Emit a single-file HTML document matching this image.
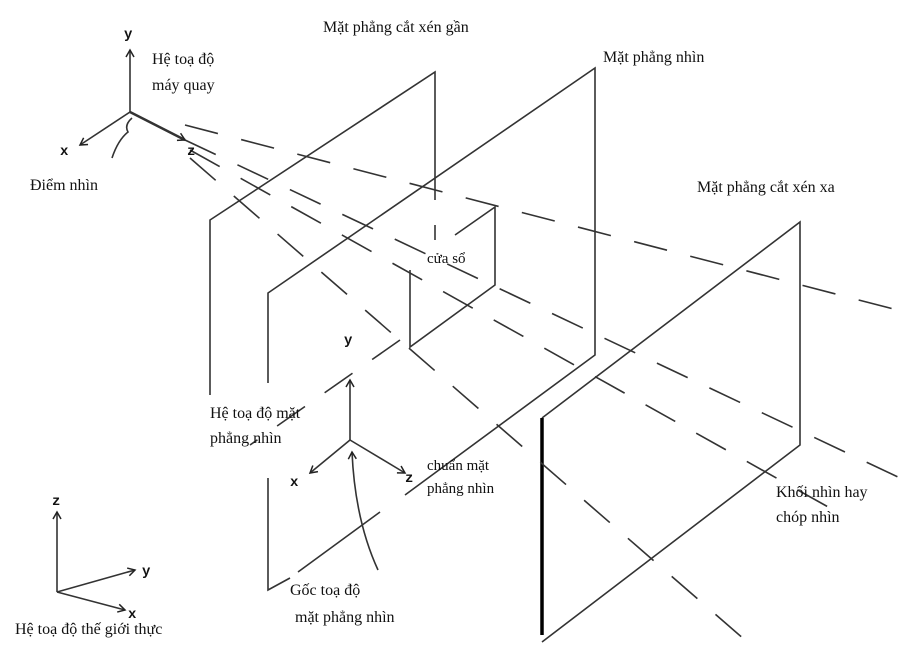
<!DOCTYPE html>
<html><head><meta charset="utf-8"><style>
html,body{margin:0;padding:0;background:#fff;}
svg{display:block;}
text{font-family:"Liberation Serif",serif;fill:#111;font-size:16px;}
.b{font-family:"Liberation Mono",monospace;font-weight:bold;font-size:14px;}
</style></head><body>
<svg width="920" height="662" viewBox="0 0 920 662">
<defs><marker id="ar" markerWidth="10" markerHeight="10" refX="8" refY="5" orient="auto" markerUnits="userSpaceOnUse"><path d="M1,1 L8,5 L1,9" fill="none" stroke="#222" stroke-width="1.5"/></marker></defs>
<g stroke="#333" stroke-width="1.6" fill="none">
<g>
<polyline points="210,395 210,220 435,72 435,200"/>
<line x1="435" y1="225" x2="435" y2="240" />
</g>
<g>
<polyline points="268,383 268,293 595,68 595,355 405,495"/>
<line x1="298" y1="572" x2="380" y2="512"/>
<polyline points="268,478 268,590 290,578"/>
</g>
<g>
<polyline points="410,270 410,347 495,285 495,207 455,235"/>
</g>
<g>
<polyline points="542,418 800,222 800,445 542,642"/>
<line x1="542" y1="418" x2="542" y2="635" stroke="#000" stroke-width="3.5"/>
</g>
<g stroke-dasharray="34,24">
<line x1="185" y1="125" x2="905" y2="312"/>
<line x1="185" y1="140" x2="900" y2="478"/>
<line x1="190" y1="150" x2="830" y2="508"/>
<line x1="190" y1="158" x2="745" y2="640"/>
<line x1="400" y1="340" x2="250" y2="445"/>
</g>
<g>
<line x1="130" y1="112" x2="130" y2="50" marker-end="url(#ar)"/>
<line x1="130" y1="112" x2="80" y2="145" marker-end="url(#ar)"/>
<line x1="130" y1="112" x2="185" y2="140" marker-end="url(#ar)" stroke-width="2.5"/>
<path d="M112,158 Q118,140 128,132 Q124,125 132,118"/>
</g>
<g>
<line x1="350" y1="440" x2="350" y2="380" marker-end="url(#ar)"/>
<line x1="350" y1="440" x2="310" y2="473" marker-end="url(#ar)"/>
<line x1="350" y1="440" x2="405" y2="473" marker-end="url(#ar)"/>
<path d="M378,570 Q355,520 352,452" marker-end="url(#ar)"/>
</g>
<g>
<line x1="57" y1="592" x2="57" y2="512" marker-end="url(#ar)"/>
<line x1="57" y1="592" x2="135" y2="570" marker-end="url(#ar)"/>
<line x1="57" y1="592" x2="125" y2="610" marker-end="url(#ar)"/>
</g>
</g>
<text class="b" x="124" y="38">y</text>
<text class="b" x="60" y="155">x</text>
<text class="b" x="187" y="155">z</text>
<text class="b" x="344" y="344">y</text>
<text class="b" x="290" y="486">x</text>
<text class="b" x="405" y="482">z</text>
<text class="b" x="52" y="505">z</text>
<text class="b" x="142" y="575">y</text>
<text class="b" x="128" y="618">x</text>
<text x="323" y="32">Mặt phẳng cắt xén gần</text>
<text x="603" y="62">Mặt phẳng nhìn</text>
<text x="697" y="192">Mặt phẳng cắt xén xa</text>
<text x="152" y="64">Hệ toạ độ</text>
<text x="152" y="90">máy quay</text>
<text x="30" y="190">Điểm nhìn</text>
<text x="427" y="263" style="font-size:15px">cửa sổ</text>
<text x="210" y="418">Hệ toạ độ mặt</text>
<text x="210" y="443">phẳng nhìn</text>
<text x="427" y="470" style="font-size:15px">chuẩn mặt</text>
<text x="427" y="493" style="font-size:15px">phẳng nhìn</text>
<text x="776" y="497">Khối nhìn hay</text>
<text x="776" y="522">chóp nhìn</text>
<text x="290" y="595">Gốc toạ độ</text>
<text x="295" y="622">mặt phẳng nhìn</text>
<text x="15" y="634">Hệ toạ độ thế giới thực</text>
</svg>
</body></html>
